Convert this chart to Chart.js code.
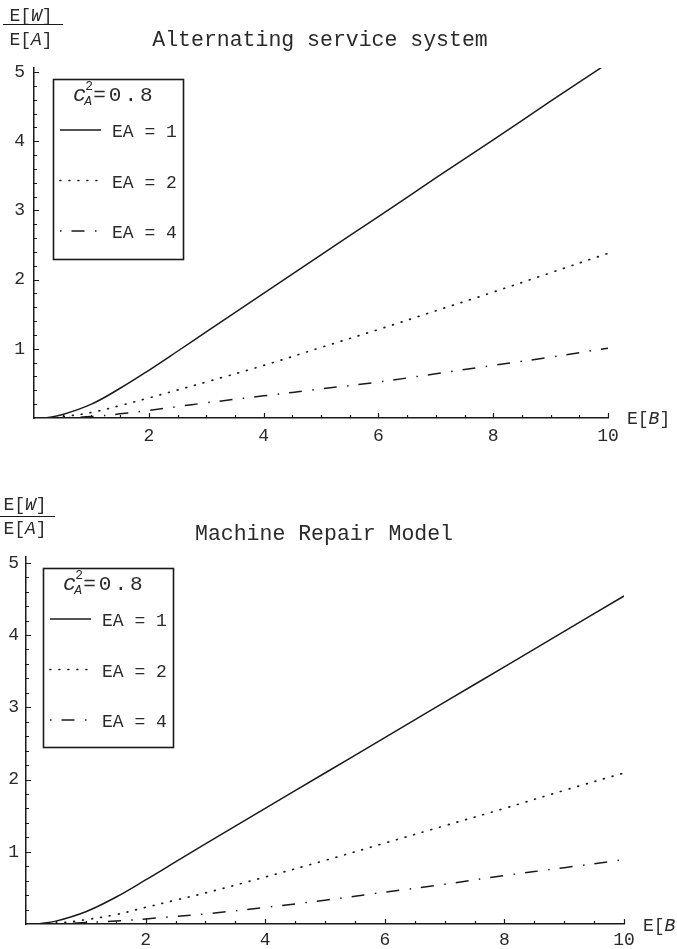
<!DOCTYPE html>
<html>
<head>
<meta charset="utf-8">
<script src="https://cdn.jsdelivr.net/npm/chart.js@4/dist/chart.umd.min.js"></script>
<style>
  html, body { margin: 0; padding: 0; background: #fff; }
  body { width: 677px; height: 949px; position: relative; overflow: hidden; }
  canvas { position: absolute; left: 0; }
  #alt { top: 0; }
  #mrm { top: 475px; }
</style>
</head>
<body>
<canvas id="alt" width="677" height="475" style="width:677px;height:475px"></canvas>
<canvas id="mrm" width="677" height="474" style="width:677px;height:474px"></canvas>
<script>
const xValues = [0.2, 0.5, 1, 1.5, 2, 2.5, 3, 4, 5, 6, 7, 8, 9, 10];

// Alternating service system, E[W]/E[A]
const altEA1 = [0, 0.05, 0.20, 0.43, 0.69, 0.965, 1.245, 1.80, 2.36, 2.91, 3.47, 4.02, 4.58, 5.13];
const altEA2 = [0, 0.02, 0.08, 0.18, 0.29, 0.405, 0.52, 0.76, 1.02, 1.28, 1.55, 1.82, 2.10, 2.38];
const altEA4 = [0, 0.005, 0.02, 0.06, 0.11, 0.165, 0.22, 0.32, 0.42, 0.52, 0.64, 0.76, 0.88, 1.01];

// Machine repair model, E[W]/E[A]
const mrmEA1 = [0, 0.04, 0.17, 0.37, 0.61, 0.86, 1.11, 1.60, 2.09, 2.58, 3.07, 3.56, 4.05, 4.54];
const mrmEA2 = [0, 0.01, 0.06, 0.13, 0.23, 0.33, 0.43, 0.65, 0.88, 1.12, 1.36, 1.60, 1.85, 2.09];
const mrmEA4 = [0, 0.00, 0.02, 0.04, 0.07, 0.105, 0.14, 0.23, 0.33, 0.44, 0.55, 0.67, 0.78, 0.89];

const seriesLabels = ['EA = 1', 'EA = 2', 'EA = 4'];
const xTickLabels = [2, 4, 6, 8, 10];
const yTickLabels = [1, 2, 3, 4, 5];
const xMinorStep = 0.5;
const yMinorStep = 0.2;

const INK = '#1a1a1a';
const TEXT = '#2a2a2a';
const MONO = '"Liberation Mono", "DejaVu Sans Mono", monospace';

// solid, dotted, dash-dot
const lineDashes = [[], [0.8, 8.2], [13, 10.5, 1.5, 10]];
const lineCaps = ['butt', 'round', 'butt'];
const lineWidths = [1.5, 1.7, 1.5];
const sampleOffsets = [0, 0, 23.5];

// little inward tick marks, Mathematica style
const tickMarks = {
    id: 'tickMarks',
    afterDraw(chart) {
        const {ctx, chartArea: a, scales: {x, y}} = chart;
        ctx.save();
        ctx.strokeStyle = INK;
        ctx.lineWidth = 1.2;
        ctx.beginPath();
        for (let i = 1; i * xMinorStep <= x.max + 1e-9; i++) {
            const px = Math.round(x.getPixelForValue(i * xMinorStep)) + 0.5;
            const len = i % 4 === 0 ? 5 : 3;
            ctx.moveTo(px, a.bottom);
            ctx.lineTo(px, a.bottom - len);
        }
        for (let i = 1; i * yMinorStep <= y.max + 1e-9; i++) {
            const py = Math.round(y.getPixelForValue(i * yMinorStep)) + 0.5;
            const len = i % 5 === 0 ? 5 : 3;
            ctx.moveTo(a.left, py);
            ctx.lineTo(a.left + len, py);
        }
        ctx.stroke();
        ctx.restore();
    }
};

// write a row of text pieces, each with its own font and vertical shift
function drawRuns(ctx, x, y, runs, align) {
    let w = 0;
    runs.forEach(r => { ctx.font = r[1]; w += ctx.measureText(r[0]).width; });
    let cx = align === 'center' ? x - w / 2 : x;
    runs.forEach(r => {
        ctx.font = r[1];
        ctx.fillText(r[0], cx, y + (r[2] || 0));
        cx += ctx.measureText(r[0]).width;
    });
}

// title, axis names and the boxed legend
const frame = {
    id: 'frame',
    afterDraw(chart, args, o) {
        const ctx = chart.ctx;
        ctx.save();
        ctx.fillStyle = TEXT;
        ctx.strokeStyle = INK;
        ctx.textBaseline = 'alphabetic';
        ctx.textAlign = 'left';

        // title
        drawRuns(ctx, o.titleX, o.titleY, [[o.title, '21.5px ' + MONO]], 'center');

        // y axis name as a fraction
        const f = o.yName;
        drawRuns(ctx, f.x, f.top, [['E[', '18px ' + MONO], ['W', 'italic 18px ' + MONO], [']', '18px ' + MONO]], 'center');
        ctx.lineWidth = 1;
        ctx.beginPath();
        ctx.moveTo(f.left, f.rule + 0.5);
        ctx.lineTo(f.right, f.rule + 0.5);
        ctx.stroke();
        drawRuns(ctx, f.x, f.bottom, [['E[', '18px ' + MONO], ['A', 'italic 18px ' + MONO], [']', '18px ' + MONO]], 'center');

        // x axis name
        drawRuns(ctx, o.xNameX, o.xNameY, [['E[', '18px ' + MONO], ['B', 'italic 18px ' + MONO], [']', '18px ' + MONO]]);

        // legend box
        const L = o.legend;
        ctx.lineWidth = 1.6;
        ctx.strokeRect(L.left + 0.5, L.top + 0.5, L.width, L.height);
        ctx.font = 'italic 22px ' + MONO;
        const hx = L.left + 20;
        ctx.fillText('c', hx, L.top + 22);
        const cw = ctx.measureText('c').width;
        ctx.font = '13px ' + MONO;
        ctx.fillText('2', hx + cw - 1, L.top + 11);
        ctx.font = 'italic 13px ' + MONO;
        ctx.fillText('A', hx + cw - 2, L.top + 26);
        ctx.font = '21px ' + MONO;
        ctx.letterSpacing = '3px';
        ctx.fillText('=0.8', hx + cw + 7, L.top + 22);
        ctx.letterSpacing = '0px';

        chart.data.datasets.forEach((ds, i) => {
            const cy = L.top + 51 + i * 50.5;
            ctx.lineWidth = ds.borderWidth;
            ctx.lineCap = ds.borderCapStyle;
            ctx.setLineDash(ds.borderDash);
            ctx.lineDashOffset = sampleOffsets[i];
            ctx.beginPath();
            ctx.moveTo(L.left + 7, cy);
            ctx.lineTo(L.left + 48, cy);
            ctx.stroke();
            ctx.setLineDash([]);
            ctx.font = '18px ' + MONO;
            ctx.fillText(ds.label, L.left + 59, cy + 7);
        });
        ctx.restore();
    }
};

function buildChart(canvasId, seriesSet, box) {
    return new Chart(document.getElementById(canvasId), {
        type: 'line',
        data: {
            datasets: seriesSet.map((vals, i) => ({
                label: seriesLabels[i],
                data: xValues.map((x, k) => ({x: x, y: vals[k]})),
                borderColor: INK,
                borderWidth: lineWidths[i],
                borderDash: lineDashes[i],
                borderCapStyle: lineCaps[i],
                pointRadius: 0,
                fill: false,
                tension: 0.4
            }))
        },
        options: {
            responsive: false,
            animation: false,
            events: [],
            layout: {padding: {top: box.top, right: box.right, left: 0, bottom: 0}},
            scales: {
                x: {
                    type: 'linear', min: 0, max: 10,
                    grid: {display: false, drawTicks: false},
                    border: {color: INK, width: 1.5},
                    ticks: {font: {family: MONO, size: 18}, color: TEXT, padding: box.xPad, maxRotation: 0, autoSkip: false},
                    afterBuildTicks: s => { s.ticks = xTickLabels.map(v => ({value: v})); },
                    afterFit: s => { s.height = box.xAxisHeight; }
                },
                y: {
                    type: 'linear', min: 0, max: box.yMax,
                    grid: {display: false, drawTicks: false},
                    border: {color: INK, width: 1.5},
                    ticks: {font: {family: MONO, size: 18}, color: TEXT, padding: box.yPad, autoSkip: false},
                    afterBuildTicks: s => { s.ticks = yTickLabels.map(v => ({value: v})); },
                    afterFit: s => { s.width = box.yAxisWidth; }
                }
            },
            plugins: {
                legend: {display: false},
                tooltip: {enabled: false},
                title: {display: false},
                frame: box.frame
            }
        },
        plugins: [tickMarks, frame]
    });
}

buildChart('alt', [altEA1, altEA2, altEA4], {
    top: 68, right: 69, yMax: 5.06, xAxisHeight: 57, yAxisWidth: 34, yPad: 9, xPad: 7,
    frame: {
        title: 'Alternating service system', titleX: 320, titleY: 46,
        yName: {x: 31, top: 21, rule: 24, bottom: 45, left: 3, right: 63},
        xNameX: 627, xNameY: 424,
        legend: {left: 53, top: 79, width: 130, height: 180}
    }
});

buildChart('mrm', [mrmEA1, mrmEA2, mrmEA4], {
    top: 82, right: 53, yMax: 5.08, xAxisHeight: 25, yAxisWidth: 26, yPad: 7, xPad: 5,
    frame: {
        title: 'Machine Repair Model', titleX: 324, titleY: 65,
        yName: {x: 25, top: 35, rule: 41, bottom: 59, left: 0, right: 55},
        xNameX: 643, xNameY: 456,
        legend: {left: 43, top: 93, width: 130, height: 179}
    }
});
</script>
</body>
</html>
